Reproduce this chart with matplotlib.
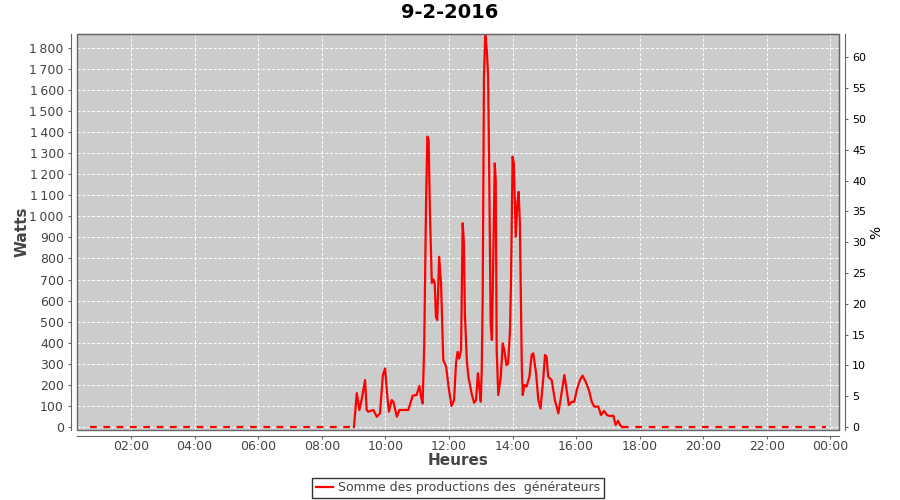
import matplotlib
matplotlib.use('Agg')
import matplotlib.pyplot as plt
from matplotlib.ticker import FuncFormatter

# heures decimales / watts
night_am_t = [0.72, 9.01]
night_am_w = [0, 0]
night_pm_t = [17.45, 23.85]
night_pm_w = [0, 0]

day_t = [9.01, 9.10, 9.18, 9.25, 9.36, 9.41, 9.46, 9.62, 9.73, 9.83, 9.92, 9.99,
         10.06, 10.11, 10.20, 10.25, 10.36, 10.44, 10.72, 10.86, 10.98, 11.07, 11.12,
         11.17, 11.22, 11.28, 11.32, 11.36, 11.40, 11.46, 11.51, 11.55, 11.59, 11.63,
         11.69, 11.75, 11.82, 11.91, 12.00, 12.08, 12.16, 12.22, 12.27, 12.32, 12.38,
         12.43, 12.47, 12.50, 12.56, 12.61, 12.71, 12.79, 12.85, 12.91, 12.95, 13.00,
         13.03, 13.06, 13.10, 13.14, 13.19, 13.23, 13.26, 13.31, 13.35, 13.39, 13.44,
         13.47, 13.50, 13.55, 13.63, 13.69, 13.74, 13.81, 13.86, 13.92, 13.95, 14.00,
         14.04, 14.10, 14.15, 14.19, 14.23, 14.29, 14.32, 14.37, 14.44, 14.53, 14.60,
         14.65, 14.74, 14.81, 14.88, 14.97, 15.02, 15.07, 15.12, 15.23, 15.33, 15.44,
         15.54, 15.63, 15.70, 15.77, 15.86, 15.94, 16.02, 16.12, 16.20, 16.30, 16.40,
         16.49, 16.57, 16.70, 16.78, 16.88, 16.97, 17.06, 17.17, 17.24, 17.32, 17.38,
         17.45]
day_w = [0, 161, 81, 128, 223, 81, 73, 81, 49, 65, 247, 278,
         144, 73, 128, 120, 49, 81, 81, 149, 152, 195, 144,
         112, 381, 1077, 1378, 1362, 1016, 683, 700, 683, 523, 508,
         808, 683, 318, 286, 176, 100, 128, 302, 357, 325, 365,
         967, 872, 539, 318, 239, 160, 115, 128, 255, 192, 120,
         271, 618, 1663, 1865, 1789, 1663, 1283, 492, 413, 776, 1251,
         1172, 365, 152, 239, 397, 365, 294, 302, 460, 683, 1283,
         1251, 903, 1062, 1116, 967, 286, 152, 199, 192, 239, 342,
         350, 255, 128, 88, 239, 342, 334, 239, 223, 128, 65,
         160, 247, 176, 104, 120, 120, 176, 223, 244, 215, 176,
         120, 97, 97, 57, 76, 57, 52, 54, 10, 30, 10,
         0]

x_ticks = [2, 4, 6, 8, 10, 12, 14, 16, 18, 20, 22, 24]
x_labels = ['02:00', '04:00', '06:00', '08:00', '10:00', '12:00', '14:00',
            '16:00', '18:00', '20:00', '22:00', '00:00']
y_ticks = list(range(0, 1900, 100))
pct_ticks = list(range(0, 65, 5))

fig = plt.figure(figsize=(9, 5), dpi=100)
ax = fig.add_axes([0.0856, 0.14, 0.8467, 0.792])
ax.set_facecolor('#cccccc')

ax.plot(day_t, day_w, color='red', lw=1.6, label='Somme des productions des  générateurs')
ax.plot(night_am_t, night_am_w, color='red', lw=1.6, ls=(0, (3, 3)))
ax.plot(night_pm_t, night_pm_w, color='red', lw=1.6, ls=(0, (3, 3)))

ax.set_xlim(0.30, 24.27)
ax.set_ylim(-14, 1865)
ax.set_xticks(x_ticks)
ax.set_xticklabels(x_labels)
ax.set_yticks(y_ticks)
ax.yaxis.set_major_formatter(FuncFormatter(lambda v, p: f'{int(v):,}'.replace(',', '\u2009')))
ax.grid(True, color='white', ls=(0, (3, 2)), lw=0.7)
ax.set_axisbelow(True)

for s in ['top', 'right']:
    ax.spines[s].set_color('#666666')
for s in ['left', 'bottom']:
    ax.spines[s].set_position(('outward', 4))
    ax.spines[s].set_color('#666666')
# contour de la zone de tracé
ax.add_patch(plt.Rectangle((0, 0), 1, 1, transform=ax.transAxes, fill=False,
                           ec='#666666', lw=1, clip_on=False, zorder=5))
ax.tick_params(colors='#666666', labelcolor='#444444', labelsize=9, length=2)
ax.tick_params(axis='x', pad=1)

ax.set_xlabel('Heures', fontsize=11, fontweight='bold', color='#444444', labelpad=0)
ax.set_ylabel('Watts', fontsize=11, fontweight='bold', color='#444444', labelpad=0)
fig.suptitle('9-2-2016', fontsize=14, fontweight='bold', y=0.995)

ax2 = ax.twinx()
ax2.set_ylim(-0.49, 63.8)
ax2.set_yticks(pct_ticks)
ax2.spines['right'].set_position(('outward', 4))
ax2.spines['right'].set_color('#666666')
for s in ['top', 'left', 'bottom']:
    ax2.spines[s].set_visible(False)
ax2.tick_params(colors='#666666', labelcolor='black', labelsize=8, length=2)
ax2.set_ylabel('%', fontsize=10, labelpad=2)

leg = ax.legend(loc='upper center', bbox_to_anchor=(0.5, -0.12), frameon=True,
                fancybox=False, edgecolor='black', fontsize=9, handlelength=1.4,
                handletextpad=0.4, borderpad=0.3, borderaxespad=0)
leg.get_frame().set_linewidth(1)
for t in leg.get_texts():
    t.set_color('#444444')

fig.savefig('out.png', dpi=100)
